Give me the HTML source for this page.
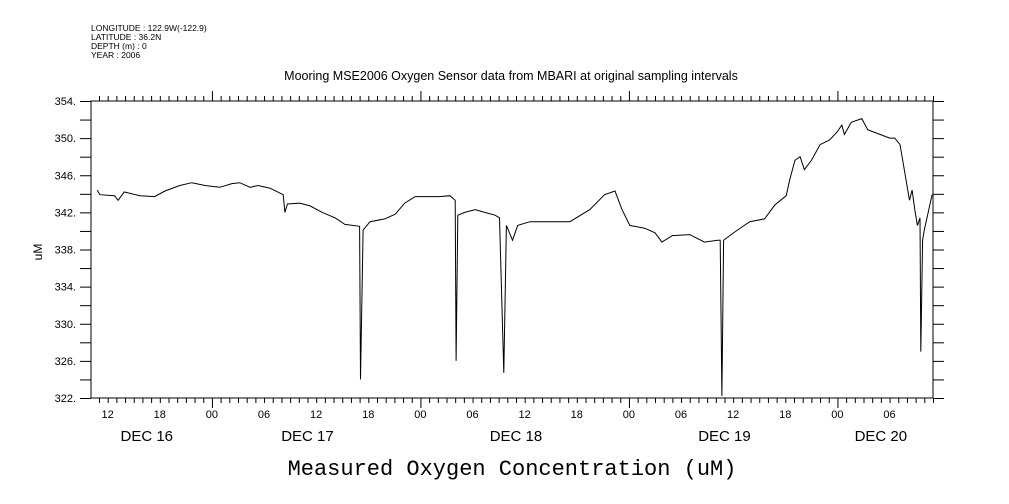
<!DOCTYPE html>
<html><head><meta charset="utf-8"><style>
body{margin:0;background:#fff}
svg{display:block;font-family:"Liberation Sans",sans-serif}
</style></head><body>
<svg id="c" width="1009" height="504">
<g font-size="8.5" fill="#000">
<text x="91" y="31">LONGITUDE : 122.9W(-122.9)</text>
<text x="91" y="40">LATITUDE : 36.2N</text>
<text x="91" y="49">DEPTH (m) : 0</text>
<text x="91" y="58">YEAR : 2006</text>
</g>
<text x="511" y="80" font-size="12.5" text-anchor="middle">Mooring MSE2006 Oxygen Sensor data from MBARI at original sampling intervals</text>
<text transform="translate(42,252) rotate(-90)" font-size="12" text-anchor="middle">uM</text>
<text x="512" y="475" font-size="22" text-anchor="middle" font-family="Liberation Mono, monospace">Measured Oxygen Concentration (uM)</text>
<g id="axes"></g>
<path id="line" fill="none" stroke="#000" stroke-width="1"/>
</svg>
<script>
const hours=[10.8,11.1,12.8,13.2,13.9,15.7,17.4,18.6,20.3,21.7,23.2,24.9,26.3,27.2,28.4,29.3,30.7,32.2,32.4,32.7,34.1,35.3,36.7,38.2,39.3,41.0,41.1,41.4,42.2,43.9,45.1,46.2,47.4,48.5,50.2,51.4,52.0,52.1,52.3,53.1,54.3,55.4,56.6,57.1,57.6,57.9,58.6,59.2,60.6,62.9,65.2,67.5,69.2,70.4,71.2,72.1,73.8,75.0,75.8,77.0,79.0,80.7,82.2,82.5,82.7,82.9,84.2,85.9,87.6,88.8,90.1,90.5,91.1,91.7,92.2,93.0,94.0,95.1,96.0,96.5,96.8,97.6,98.8,99.5,100.9,102.0,102.6,103.2,103.7,104.3,104.6,104.9,105.2,105.5,105.6,105.8,106.0,106.9];
const oxygen=[344.4,343.9,343.8,343.3,344.2,343.8,343.7,344.3,344.9,345.2,344.9,344.7,345.1,345.2,344.7,344.9,344.6,343.9,342.0,342.9,343.0,342.7,342.0,341.4,340.7,340.5,324.0,340.1,341.0,341.3,341.8,343.0,343.7,343.7,343.7,343.8,343.3,326.0,341.7,342.0,342.3,342.0,341.7,341.4,324.7,340.6,339.0,340.6,341.0,341.0,341.0,342.3,343.9,344.3,342.3,340.6,340.3,339.8,338.8,339.5,339.6,338.8,339.0,339.0,322.2,339.0,339.9,341.0,341.3,342.8,343.8,345.5,347.6,348.0,346.6,347.6,349.3,349.8,350.7,351.4,350.4,351.7,352.1,350.9,350.4,350.0,350.0,349.3,346.6,343.3,344.4,342.3,340.6,341.4,327.0,339.0,340.1,343.9];
const yTicks=[322,326,330,334,338,342,346,350,354];
const xLabels=["12","18","00","06","12","18","00","06","12","18","00","06","12","18","00","06"];
const xLabelHours=[12,18,24,30,36,42,48,54,60,66,72,78,84,90,96,102];
const dayLabels=["DEC 16","DEC 17","DEC 18","DEC 19","DEC 20"];
const dayHours=[16.5,35,59,83,101];
const X0=91,X1=933,Y0=398,Y1=101,H0=10.08,H1=107,V0=322,V1=354;
const sx=h=>X0+(h-H0)*(X1-X0)/(H1-H0);
const sy=v=>Y0-(v-V0)*(Y0-Y1)/(V1-V0);
const NS="http://www.w3.org/2000/svg",g=document.getElementById('axes');
function ln(x1,y1,x2,y2,n){const e=document.createElementNS(NS,'line');e.setAttribute('x1',x1);e.setAttribute('y1',y1);e.setAttribute('x2',x2);e.setAttribute('y2',y2);e.setAttribute('stroke','#000');


g.appendChild(e);}
function tx(x,y,s,sz,anc,n){const e=document.createElementNS(NS,'text');e.setAttribute('x',x);e.setAttribute('y',y);e.setAttribute('font-size',sz);e.setAttribute('text-anchor',anc);e.textContent=s;


g.appendChild(e);}
const r=document.createElementNS(NS,'rect');r.setAttribute('x',X0);r.setAttribute('y',Y1);r.setAttribute('width',X1-X0);r.setAttribute('height',Y0-Y1);r.setAttribute('fill','none');r.setAttribute('stroke','#000');


g.appendChild(r);
for(let h=Math.ceil(H0);h<=H1;h++){const x=sx(h)+0.5,L=(h%24===0)?10:5;ln(x,Y1,x,Y1-L,'x-tick-top');ln(x,Y0,x,Y0+L,'x-tick-bottom');}
for(let v=V0;v<=V1;v+=2){const y=sy(v)+0.5;ln(X0-11,y,X0,y,'y-tick-left');ln(X1,y,X1+11,y,'y-tick-right');}
yTicks.forEach(v=>tx(X0-15,sy(v)+4,v+'.',11,'end','y-tick-label'));
xLabels.forEach((s,i)=>{const x=sx(xLabelHours[i]);if(x>X0&&x<X1)tx(x,418,s,11,'middle','x-tick-label');});
dayLabels.forEach((s,i)=>tx(sx(dayHours[i]),441,s,15,'middle','day-label'));
document.getElementById('line').setAttribute('d',hours.map((h,i)=>(i?'L':'M')+sx(h).toFixed(1)+' '+sy(oxygen[i]).toFixed(1)).join(' '));
</script>
</body></html>
